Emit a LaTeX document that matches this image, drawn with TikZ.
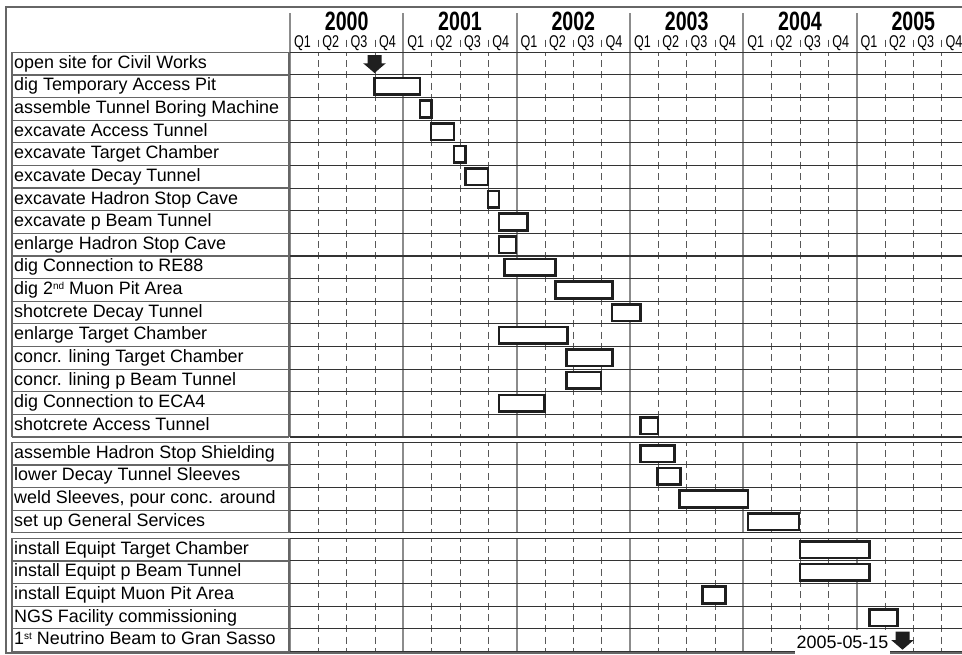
\documentclass[tikz,border=0pt]{standalone}
\usepackage{fontspec}
\usepackage{graphicx}
\setmainfont{Liberation Sans}

\newcommand{\hnarrow}[1]{\scalebox{0.74}[1]{#1}}
\newcommand{\upidx}[1]{\raisebox{5.5pt}{\fontsize{10}{10}\selectfont #1}}

\tikzset{
  frameline/.style={draw=black!60, line width=1.2pt},
  labelbox/.style={draw=black!60, line width=1.2pt},
  rowline/.style={draw=black!80, line width=1.1pt},
  yearline/.style={draw=black!45, line width=2pt},
  qline/.style={draw=black!65, line width=1pt, dash pattern=on 7pt off 4.315pt, dash phase=3.5pt},
  qtick/.style={draw=black!70, line width=1pt},
  taskbar/.style={draw=black!88, line width=2.6pt, fill=white},
  tasklabel/.style={anchor=base west, inner sep=0pt, font=\fontsize{17.9}{20}\selectfont},
  yearlabel/.style={anchor=base, inner sep=0pt, font=\fontsize{26.5}{28}\selectfont\bfseries},
  qlabel/.style={anchor=base, inner sep=0pt, font=\fontsize{17}{18}\selectfont},
  datelabel/.style={anchor=base east, inner sep=0pt, font=\fontsize{17.9}{20}\selectfont},
  mstone/.pic={\fill[black!88] (-7,0) -- (7,0) -- (7,8.3) -- (11.3,8.3) -- (0,18) -- (-11.3,8.3) -- (-7,8.3) -- cycle;}
}

\begin{document}
\begin{tikzpicture}[x=1pt, y=-1pt]
  \useasboundingbox (0,0) rectangle (962,654);
  \clip (0,0) rectangle (962,654);

  % outer frame
  \draw[frameline] (962,7) -- (6,7) -- (6,653) -- (962,653);

  % header: years and quarters
  \foreach \j in {0,...,5} {
    \draw[yearline] (290+113.333*\j,13) -- (290+113.333*\j,52.3);
    \pgfmathtruncatemacro{\yr}{2000+\j}
    \node[yearlabel] (y\j) at (290+113.333*\j+56.67,30.3) {\hnarrow{\yr}};
  }
  \foreach \i in {0,...,23} {
    \pgfmathtruncatemacro{\qn}{mod(\i,4)+1}
    \node[qlabel] (q\i) at (290+28.333*\i+12.4,47.2) {\hnarrow{Q\qn}};
    \ifnum\qn=1 \else \draw[qtick] (290+28.333*\i,39.5) -- (290+28.333*\i,47); \fi
  }

  % grid of the three groups
  \foreach \gt/\gb/\n in {52.3/437.0/17, 442.3/532.8/4, 538.3/651.5/5} {
    \foreach \i in {1,...,23} {
      \pgfmathtruncatemacro{\qm}{mod(\i,4)}
      \ifnum\qm=0 \else \draw[qline] (290+28.333*\i,\gt) -- (290+28.333*\i,\gb); \fi
    }
    \foreach \j in {0,...,5}
      \draw[yearline] (290+113.333*\j,\gt) -- (290+113.333*\j,\gb);
    \foreach \m in {0,...,\n} {
      \draw[rowline] (290,\gt+22.63*\m) -- (962,\gt+22.63*\m);
      \draw[labelbox] (12,\gt+22.63*\m) -- (289,\gt+22.63*\m);
    }
    \draw[labelbox] (12,\gt) -- (12,\gb);
    \draw[labelbox] (289,\gt) -- (289,\gb);
  }

  % task labels
  \foreach \k/\yc/\txt in {
      1/63.6/open site for Civil Works,
      2/86.2/dig Temporary Access Pit,
      3/108.9/assemble Tunnel Boring Machine,
      4/131.5/excavate Access Tunnel,
      5/154.1/excavate Target Chamber,
      6/176.8/excavate Decay Tunnel,
      7/199.4/excavate Hadron Stop Cave,
      8/222.0/excavate p Beam Tunnel,
      9/244.7/enlarge Hadron Stop Cave,
      10/267.3/dig Connection to RE88,
      11/289.9/dig 2\upidx{nd} Muon Pit Area,
      12/312.5/shotcrete Decay Tunnel,
      13/335.2/enlarge Target Chamber,
      14/357.8/concr. lining Target Chamber,
      15/380.4/concr. lining p Beam Tunnel,
      16/403.1/dig Connection to ECA4,
      17/425.7/shotcrete Access Tunnel,
      18/453.6/assemble Hadron Stop Shielding,
      19/476.2/lower Decay Tunnel Sleeves,
      20/498.9/{weld Sleeves, pour conc. around},
      21/521.5/set up General Services,
      22/549.6/install Equipt Target Chamber,
      23/572.2/install Equipt p Beam Tunnel,
      24/594.9/install Equipt Muon Pit Area,
      25/617.5/NGS Facility commissioning,
      26/640.1/1\upidx{st} Neutrino Beam to Gran Sasso}
    \node[tasklabel] (t\k) at (14,\yc+4.6) {\txt};

  % task bars
  \foreach \xa/\xb/\yc in {
      374.3/420/86.2, 420/431.3/108.9, 431/454/131.5, 454/465.3/154.1,
      465.3/488/176.8, 488/499/199.4, 499/527.3/222.0, 499/516/244.7,
      504.7/555.7/267.3, 555.3/612.3/289.9, 612/640.3/312.5, 499/567.3/335.2,
      566.7/612.3/357.8, 566.7/601/380.4, 499/544.3/403.1, 640.3/658/425.7,
      640.3/674.3/453.6, 657.3/680.3/476.2, 679.7/748/498.9, 748/799/521.5,
      800/869.3/549.6, 800/869.3/572.2, 702.7/725.7/594.9, 869.3/897.7/617.5}
    \draw[taskbar] (\xa,\yc-8.3) rectangle (\xb,\yc+8.3);

  % milestones
  \pic at (374.5,55) {mstone};
  \fill[white] (795,629.5) rectangle (890,654);
  \node[datelabel] (d26) at (888.5,648) {2005-05-15};
  \pic at (902.5,631.7) {mstone};
\end{tikzpicture}
\end{document}
